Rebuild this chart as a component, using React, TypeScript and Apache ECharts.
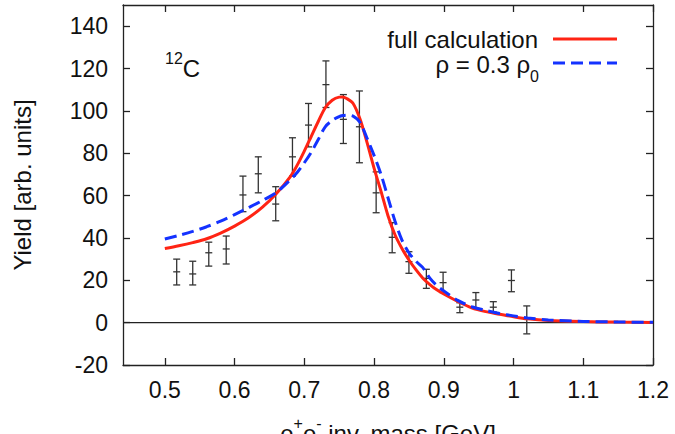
import React, { useEffect, useRef } from "react";
import * as echarts from "echarts";

// Theory curves (x in GeV)
const curveX = [0.5, 0.52, 0.54, 0.56, 0.58, 0.6, 0.62, 0.64, 0.66, 0.68, 0.69, 0.7, 0.71, 0.72, 0.73, 0.74, 0.75, 0.755, 0.76, 0.77, 0.78, 0.79, 0.8, 0.81, 0.82, 0.83, 0.84, 0.85, 0.86, 0.87, 0.88, 0.89, 0.9, 0.92, 0.94, 0.96, 0.98, 1.0, 1.02, 1.05, 1.1, 1.15, 1.2];
const fullCalc = [35, 36.3, 37.8, 39.6, 42.3, 45.6, 49.5, 54.5, 61, 69, 74.5, 81, 88, 95, 101.5, 105, 106.5, 106.6, 106, 103.5, 96, 85, 73, 62, 50.5, 41.5, 35, 29.6, 25, 21, 18, 15.5, 13.5, 10, 7, 5.2, 4, 2.8, 1.8, 1.0, 0.5, 0.25, 0.1];
const rho03 = [39.5, 41.2, 43.1, 45.3, 47.9, 51, 54.3, 57.7, 61.5, 67.5, 71, 75.5, 80.5, 86.5, 92.5, 95.5, 97.3, 97.8, 98, 97.5, 94.5, 87, 79, 70, 59, 48, 39, 33, 29, 26, 21, 17.5, 15, 10.5, 7.5, 5.8, 4.3, 3.2, 2.2, 1.3, 0.6, 0.3, 0.15];

// Data points with error bars
const dataX = [0.517, 0.54, 0.563, 0.588, 0.612, 0.634, 0.659, 0.683, 0.706, 0.731, 0.756, 0.779, 0.803, 0.826, 0.85, 0.875, 0.899, 0.923, 0.946, 0.971, 0.997, 1.019];
const dataY = [24, 23, 33, 34.8, 60.3, 70.3, 56, 78.3, 93.3, 112.4, 96, 92.5, 61.3, 40.3, 28.8, 20.9, 18.9, 7.3, 10.7, 7.3, 19.9, 1.6];
const dataLow = [17.8, 17.8, 26.7, 27.7, 52.4, 61.3, 48.1, 69.2, 83, 101.6, 84.6, 75.5, 51.9, 33, 23.3, 16.2, 14.2, 4.7, 6.8, 5, 14.6, -5.3];
const dataHigh = [30, 29, 38, 40.9, 69.2, 78.3, 64.2, 87.3, 103.5, 123.6, 107.7, 109.4, 71.2, 47.2, 33.5, 25.2, 23.8, 9.4, 14.2, 9.9, 24.9, 7.9];

const xTicks = [0.5, 0.6, 0.7, 0.8, 0.9, 1.0, 1.1, 1.2];
const yTicks = [-20, 0, 20, 40, 60, 80, 100, 120, 140];

const FONT = "'Liberation Sans', Arial, sans-serif";
const RED = "#ff2414";
const BLUE = "#1432ff";
const AXIS = { color: "#222", width: 1.3 };

export default function App() {
  const ref = useRef<HTMLDivElement>(null);
  useEffect(() => {
    if (!ref.current) return;
    const chart = echarts.init(ref.current, null, { renderer: "svg" });
    const xMin = 0.44, xMax = 1.2, yMin = -20, yMax = 150;
    const fmtX = (v: number) => String(Math.round(v * 10) / 10);
    const option: any = {
      animation: false,
      backgroundColor: "#fff",
      grid: { left: 123, right: 22, top: 5, bottom: 69, containLabel: false, outerBoundsMode: "none" },
      xAxis: [
        {
          type: "value", min: xMin, max: xMax, position: "bottom",
          axisLine: { show: true, onZero: false, lineStyle: AXIS },
          axisTick: { show: true, inside: true, length: 7, customValues: xTicks, lineStyle: AXIS },
          axisLabel: { customValues: xTicks, formatter: fmtX, fontSize: 23, color: "#111", margin: 13, fontFamily: FONT },
          splitLine: { show: false },
          name: "{t|e}{s|+}{t|e}{s|-}{t| inv. mass [GeV]}",
          nameLocation: "middle", nameGap: 50,
          nameTextStyle: {
            fontFamily: FONT, color: "#111",
            rich: {
              t: { fontSize: 24, fontFamily: FONT, color: "#111", lineHeight: 30, verticalAlign: "bottom" },
              s: { fontSize: 16, fontFamily: FONT, color: "#111", lineHeight: 30, verticalAlign: "top" },
            },
          },
        },
        {
          type: "value", min: xMin, max: xMax, position: "top",
          axisLine: { show: true, onZero: false, lineStyle: AXIS },
          axisTick: { show: true, inside: true, length: 7, customValues: xTicks, lineStyle: AXIS },
          axisLabel: { show: false },
          splitLine: { show: false },
        },
      ],
      yAxis: [
        {
          type: "value", min: yMin, max: yMax, position: "left",
          axisLine: { show: true, onZero: false, lineStyle: AXIS },
          axisTick: { show: true, inside: true, length: 7, customValues: yTicks, lineStyle: AXIS },
          axisLabel: { customValues: yTicks, fontSize: 23, color: "#111", margin: 15, fontFamily: FONT },
          splitLine: { show: false },
          name: "Yield [arb. units]", nameLocation: "middle", nameGap: 89, nameRotate: 90,
          nameTextStyle: { fontSize: 24, fontFamily: FONT, color: "#111" },
        },
        {
          type: "value", min: yMin, max: yMax, position: "right",
          axisLine: { show: true, onZero: false, lineStyle: AXIS },
          axisTick: { show: true, inside: true, length: 7, customValues: yTicks, lineStyle: AXIS },
          axisLabel: { show: false },
          splitLine: { show: false },
        },
      ],
      series: [
        {
          type: "line", name: "zero", data: [[xMin, 0], [xMax, 0]],
          showSymbol: false, silent: true, z: 1,
          lineStyle: { color: "#222", width: 1.2 },
        },
        {
          type: "custom", name: "data",
          data: dataX.map((x, i) => [x, dataY[i], dataLow[i], dataHigh[i]]),
          encode: { x: 0, y: [1, 2, 3] },
          z: 2,
          renderItem: (params: any, api: any) => {
            const x = api.value(0);
            const pc = api.coord([x, api.value(1)]);
            const pl = api.coord([x, api.value(2)]);
            const ph = api.coord([x, api.value(3)]);
            const hw = 3.5;
            const style = { stroke: "#333", lineWidth: 1.3, fill: "none" };
            return {
              type: "group",
              children: [
                { type: "line", shape: { x1: pl[0], y1: pl[1], x2: ph[0], y2: ph[1] }, style },
                { type: "line", shape: { x1: pl[0] - hw, y1: pl[1], x2: pl[0] + hw, y2: pl[1] }, style },
                { type: "line", shape: { x1: ph[0] - hw, y1: ph[1], x2: ph[0] + hw, y2: ph[1] }, style },
                { type: "line", shape: { x1: pc[0] - hw, y1: pc[1], x2: pc[0] + hw, y2: pc[1] }, style },
              ],
            };
          },
        },
        {
          type: "line", name: "full calculation",
          data: curveX.map((x, i) => [x, fullCalc[i]]),
          showSymbol: false, smooth: 0.3, z: 3,
          lineStyle: { color: RED, width: 3 },
        },
        {
          type: "line", name: "rho",
          data: curveX.map((x, i) => [x, rho03[i]]),
          showSymbol: false, smooth: 0.3, z: 4,
          lineStyle: { color: BLUE, width: 3, type: [12, 6] },
        },
      ],
      graphic: [
        {
          type: "text", left: 165, top: 50,
          style: {
            text: "{s|12}{m|C}",
            rich: {
              s: { fontSize: 16, fontFamily: FONT, fill: "#111", lineHeight: 30, verticalAlign: "top" },
              m: { fontSize: 24, fontFamily: FONT, fill: "#111", lineHeight: 30, verticalAlign: "bottom" },
            },
          },
        },
        {
          type: "text", x: 538, y: 39,
          style: { text: "full calculation", fontSize: 24, fontFamily: FONT, fill: "#111", align: "right", verticalAlign: "middle" },
        },
        {
          type: "text", x: 539, y: 68,
          style: {
            text: "{m|ρ = 0.3 ρ}{s|0}",
            align: "right", verticalAlign: "middle",
            rich: {
              m: { fontSize: 24, fontFamily: FONT, fill: "#111", lineHeight: 24, verticalAlign: "top" },
              s: { fontSize: 16, fontFamily: FONT, fill: "#111", lineHeight: 32, verticalAlign: "bottom" },
            },
          },
        },
        {
          type: "line", shape: { x1: 553, y1: 39, x2: 617, y2: 39 },
          style: { stroke: RED, lineWidth: 3 },
        },
        {
          type: "line", shape: { x1: 553, y1: 63, x2: 617, y2: 63 },
          style: { stroke: BLUE, lineWidth: 3, lineDash: [12, 6] },
        },
      ],
    };
    chart.setOption(option);
    return () => chart.dispose();
  }, []);
  return (
    <div
      ref={ref}
      style={{ position: "fixed", left: 0, top: 0, width: 675, height: 434, background: "#fff" }}
    />
  );
}
